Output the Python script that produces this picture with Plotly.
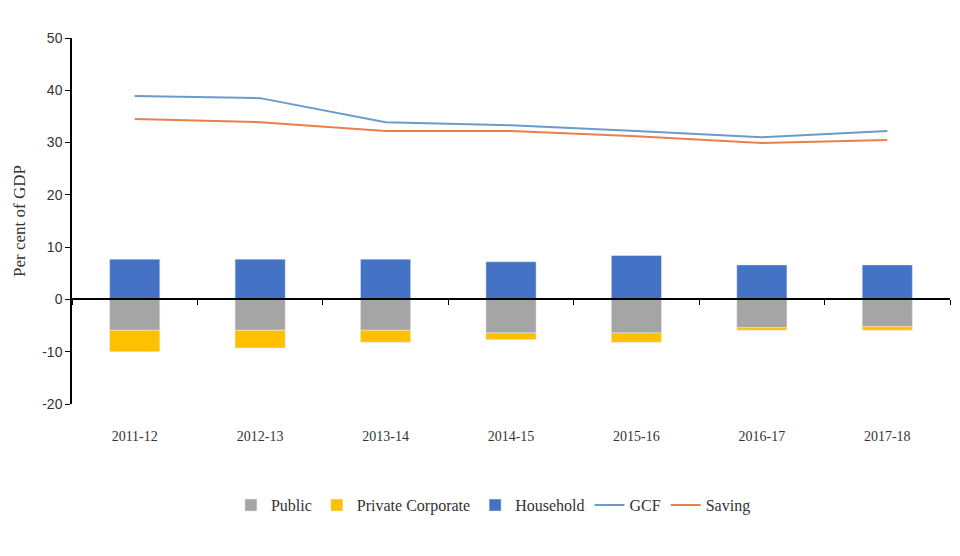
import plotly.graph_objects as go

# Data (per cent of GDP)
years = ["2011-12", "2012-13", "2013-14", "2014-15", "2015-16", "2016-17", "2017-18"]
public = [-5.9, -5.9, -5.9, -6.4, -6.4, -5.4, -5.2]
private_corporate = [-4.1, -3.4, -2.3, -1.3, -1.8, -0.5, -0.7]
household = [7.7, 7.7, 7.7, 7.2, 8.4, 6.6, 6.6]
gcf = [38.9, 38.5, 33.9, 33.3, 32.2, 31.0, 32.2]
saving = [34.5, 33.9, 32.2, 32.2, 31.2, 29.9, 30.5]

y_ticks = [50, 40, 30, 20, 10, 0, -10, -20]
y_tick_text = ["50", "40", "30", "20", "10", "0", "-10", "-20"]

serif = "Liberation Serif"
x_range = [-0.5, 6.5]

fig = go.Figure()

fig.add_trace(go.Bar(x=years, y=public, name="Public", marker_color="#A5A5A5"))
fig.add_trace(go.Bar(x=years, y=private_corporate, name="Private Corporate", marker_color="#FFC000"))
fig.add_trace(go.Bar(x=years, y=household, name="Household", marker_color="#4472C4"))
fig.add_trace(go.Scatter(x=years, y=gcf, name="GCF", mode="lines",
                         line=dict(color="#6A9BC9", width=2)))
fig.add_trace(go.Scatter(x=years, y=saving, name="Saving", mode="lines",
                         line=dict(color="#E9804A", width=2)))

# dummy trace so the zero-line axis (with boundary ticks) gets drawn
fig.add_trace(go.Scatter(x=years, y=[None] * len(years), xaxis="x2",
                         showlegend=False, hoverinfo="skip"))

# page body has an 8px margin, so the figure is a bit smaller than the window
fig.update_layout(
    width=944,
    height=540,
    paper_bgcolor="white",
    plot_bgcolor="white",
    barmode="relative",
    bargap=0.6,
    margin=dict(l=64, r=2, t=30, b=144, autoexpand=False),
    font=dict(family=serif, size=14, color="#333333"),
    xaxis=dict(
        type="category",
        range=x_range,
        showline=False,
        showgrid=False,
        zeroline=False,
        ticks="",
        automargin=False,
        ticklabelstandoff=22,
        tickfont=dict(family=serif, size=14, color="#333333"),
    ),
    xaxis2=dict(
        type="category",
        overlaying="x",
        anchor="free",
        position=20 / 70,
        range=x_range,
        showline=True,
        linecolor="black",
        linewidth=1.5,
        ticks="outside",
        tickson="boundaries",
        ticklen=5,
        tickcolor="black",
        showticklabels=False,
        showgrid=False,
        zeroline=False,
    ),
    yaxis=dict(
        range=[-20, 50],
        tickvals=y_ticks,
        ticktext=y_tick_text,
        showline=True,
        linecolor="black",
        linewidth=1.5,
        ticks="outside",
        ticklen=5,
        tickcolor="black",
        showgrid=False,
        zeroline=False,
        automargin=False,
        title=dict(text="Per cent of GDP", standoff=12,
                   font=dict(family=serif, size=17, color="#333333")),
        tickfont=dict(family="Liberation Sans Narrow, Liberation Sans", size=14, color="#333333"),
    ),
    legend=dict(
        orientation="h",
        x=0.48,
        xanchor="center",
        y=-0.23,
        yanchor="top",
        font=dict(family=serif, size=16, color="#333333"),
        itemwidth=30,
        traceorder="normal",
    ),
)

fig.write_html("out.html")
